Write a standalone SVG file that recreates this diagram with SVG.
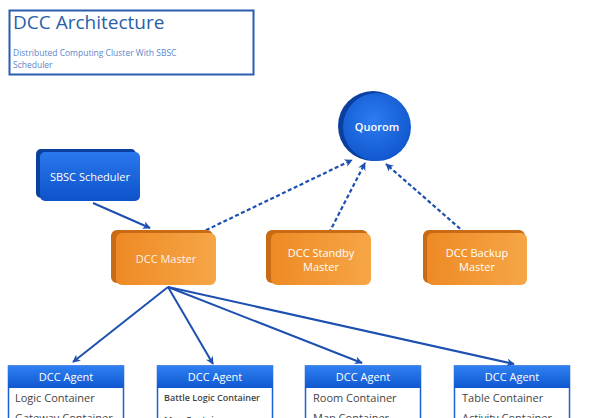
<svg xmlns="http://www.w3.org/2000/svg" width="600" height="418" viewBox="0 0 600 418">
<defs>
<linearGradient id="gBlue" x1="0" y1="0" x2="0" y2="1"><stop offset="0" stop-color="#2a78ee"/><stop offset="1" stop-color="#0e52c8"/></linearGradient>
<linearGradient id="gOrange" x1="0" y1="0" x2="1" y2="0"><stop offset="0" stop-color="#ee8a25"/><stop offset="1" stop-color="#f6a647"/></linearGradient>
<radialGradient id="gCircle" cx="0.45" cy="0.4" r="0.65"><stop offset="0" stop-color="#2c7cf0"/><stop offset="1" stop-color="#0f55cc"/></radialGradient>
<linearGradient id="gHead" x1="0" y1="0" x2="0" y2="1"><stop offset="0" stop-color="#2f80f2"/><stop offset="1" stop-color="#0f58d0"/></linearGradient>
<marker id="ah" viewBox="0 0 10 10" refX="9" refY="5" markerWidth="8" markerHeight="8" orient="auto" markerUnits="userSpaceOnUse"><path d="M0,0 L10,5 L0,10 L3,5 z" fill="#1d4fb0"/></marker>
</defs>
<style>
.t{font-family:"Open Sans","DejaVu Sans",sans-serif}
.w{fill:#ffffff;font-size:11px}
.back-b{fill:#0a3f9e}
.back-o{fill:#c96a14}
.line{stroke:#1d4fb0;stroke-width:2;fill:none}
.dash{stroke:#1d4fb0;stroke-width:2.2;fill:none;stroke-dasharray:4,2.5}
.body{fill:#ffffff;stroke:#1a5fd6;stroke-width:1.5}
.item{fill:#444444;font-size:11px}
.small{font-size:9px;font-weight:600}
</style>
<rect width="600" height="418" fill="#ffffff"/>
<g id="title">
<rect x="9.5" y="10.5" width="244" height="64" fill="#ffffff" stroke="#2b5cae" stroke-width="2"/>
<text class="t" x="13" y="29" font-size="19" fill="#2a5fa8">DCC Architecture</text>
<text class="t" x="13" y="56" font-size="8.5" fill="#5e86cc">Distributed Computing Cluster With SBSC</text>
<text class="t" x="13" y="68" font-size="8.5" fill="#5e86cc">Scheduler</text>
</g>
<g id="connectors">
<line class="line" x1="93" y1="203" x2="150" y2="228" marker-end="url(#ah)"/>
<line class="dash" x1="200" y1="233" x2="352" y2="160" marker-end="url(#ah)"/>
<line class="dash" x1="329" y1="233" x2="365" y2="163" marker-end="url(#ah)"/>
<line class="dash" x1="465" y1="233" x2="386" y2="164" marker-end="url(#ah)"/>
<line class="line" x1="168" y1="287" x2="73" y2="362" marker-end="url(#ah)"/>
<line class="line" x1="168" y1="287" x2="213" y2="364" marker-end="url(#ah)"/>
<line class="line" x1="168" y1="287" x2="362" y2="363" marker-end="url(#ah)"/>
<line class="line" x1="168" y1="287" x2="514" y2="364" marker-end="url(#ah)"/>
</g>
<g id="quorom">
<circle cx="373" cy="126" r="35" fill="#0a3f9e"/>
<circle cx="377" cy="127" r="34" fill="url(#gCircle)"/>
<text class="t w" x="377" y="131" text-anchor="middle" font-weight="600">Quorom</text>
</g>
<g id="sbsc">
<rect class="back-b" x="36" y="149" width="100" height="49" rx="5"/>
<rect x="40" y="152" width="100" height="49" rx="5" fill="url(#gBlue)"/>
<text class="t w" x="90" y="181" text-anchor="middle">SBSC Scheduler</text>
</g>
<g id="master">
<rect class="back-o" x="111" y="230" width="102" height="53" rx="6"/>
<rect x="116" y="233" width="100" height="52" rx="6" fill="url(#gOrange)"/>
<text class="t w" x="166" y="263" text-anchor="middle" fill-opacity="0.9">DCC Master</text>
</g>
<g id="standby">
<rect class="back-o" x="266" y="230" width="102" height="53" rx="6"/>
<rect x="271" y="233" width="100" height="52" rx="6" fill="url(#gOrange)"/>
<text class="t w" x="321" y="257" text-anchor="middle">DCC Standby</text>
<text class="t w" x="321" y="271" text-anchor="middle">Master</text>
</g>
<g id="backup">
<rect class="back-o" x="423" y="230" width="102" height="53" rx="6"/>
<rect x="427" y="233" width="100" height="52" rx="6" fill="url(#gOrange)"/>
<text class="t w" x="477" y="257" text-anchor="middle">DCC Backup</text>
<text class="t w" x="477" y="271" text-anchor="middle">Master</text>
</g>
<g id="agent1">
<rect class="body" x="8.5" y="366" width="115" height="70"/>
<rect x="8" y="366" width="116" height="22" fill="url(#gHead)"/>
<text class="t w" x="66" y="381" text-anchor="middle">DCC Agent</text>
<text class="t item" x="15" y="402">Logic Container</text>
<text class="t item" x="15" y="422">Gateway Container</text>
</g>
<g id="agent2">
<rect class="body" x="157.5" y="366" width="115" height="70"/>
<rect x="157" y="366" width="116" height="22" fill="url(#gHead)"/>
<text class="t w" x="215" y="381" text-anchor="middle">DCC Agent</text>
<text class="t item small" x="164" y="401">Battle Logic Container</text>
<text class="t item small" x="164" y="423">Map Container</text>
</g>
<g id="agent3">
<rect class="body" x="305.5" y="366" width="115" height="70"/>
<rect x="305" y="366" width="116" height="22" fill="url(#gHead)"/>
<text class="t w" x="363" y="381" text-anchor="middle">DCC Agent</text>
<text class="t item" x="313" y="402">Room Container</text>
<text class="t item" x="313" y="422">Map Container</text>
</g>
<g id="agent4">
<rect class="body" x="454.5" y="366" width="115" height="70"/>
<rect x="454" y="366" width="116" height="22" fill="url(#gHead)"/>
<text class="t w" x="512" y="381" text-anchor="middle">DCC Agent</text>
<text class="t item" x="462" y="402">Table Container</text>
<text class="t item" x="462" y="422">Activity Container</text>
</g>
</svg>
